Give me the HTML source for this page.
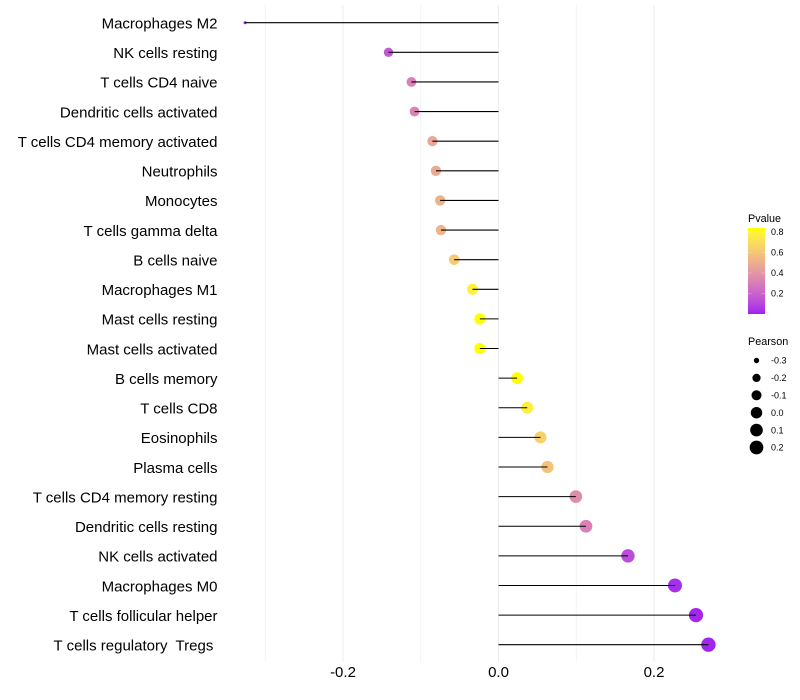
<!DOCTYPE html>
<html lang="en">
<head>
<meta charset="utf-8">
<title>Immune cell correlation lollipop chart</title>
<style>
html,body{margin:0;padding:0;background:#fff;}
#chart{display:block;width:800px;height:700px;font-family:"Liberation Sans",Arial,sans-serif;}
</style>
</head>
<body>
<svg id="chart" xmlns="http://www.w3.org/2000/svg" width="800" height="700" viewBox="0 0 800 700">
  <defs>
    <linearGradient id="pvalue-gradient" x1="0" y1="1" x2="0" y2="0"></linearGradient>
  </defs>
  <g id="grid"></g>
  <g id="points"></g>
  <g id="stems"></g>
  <g id="ylabels"></g>
  <g id="xlabels"></g>
  <g id="colorlegend">
    <text x="748" y="222" font-size="10.8" fill="#000">Pvalue</text>
    <rect x="748" y="228" width="17" height="86" fill="url(#pvalue-gradient)"></rect>
  </g>
  <g id="sizelegend">
    <text x="748" y="345" font-size="10.8" fill="#000">Pearson</text>
  </g>
</svg>
<script>
const categories = ["Macrophages M2","NK cells resting","T cells CD4 naive","Dendritic cells activated","T cells CD4 memory activated","Neutrophils","Monocytes","T cells gamma delta","B cells naive","Macrophages M1","Mast cells resting","Mast cells activated","B cells memory","T cells CD8","Eosinophils","Plasma cells","T cells CD4 memory resting","Dendritic cells resting","NK cells activated","Macrophages M0","T cells follicular helper","T cells regulatory  Tregs "];
const pearson = [-0.326,-0.1415,-0.112,-0.108,-0.085,-0.0805,-0.075,-0.074,-0.057,-0.0335,-0.024,-0.024,0.024,0.037,0.054,0.063,0.0995,0.1125,0.1665,0.227,0.254,0.27];
const pvalue = [0.001,0.16,0.31,0.32,0.46,0.48,0.51,0.52,0.62,0.77,0.83,0.83,0.83,0.76,0.64,0.58,0.36,0.31,0.12,0.03,0.015,0.01];
const xTicks = [-0.2,0,0.2];
const xMinorTicks = [-0.3,-0.1,0.1];
const colorTicks = [0.8,0.6,0.4,0.2];
const sizeTicks = [-0.3,-0.2,-0.1,0.0,0.1,0.2];

const SVGNS = "http://www.w3.org/2000/svg";
const pMin = Math.min.apply(null, pvalue), pMax = Math.max.apply(null, pvalue);
const rMin = Math.min.apply(null, pearson), rMax = Math.max.apply(null, pearson);

function xScale(v){ return 498.5 + v * 777.5; }
function yScale(i){ return 22.7 + i * 29.62; }
function radius(v){ return 1.5 + 5.7 * Math.sqrt(Math.max(0,(v - rMin) / (rMax - rMin))); }
function colorY(p){ return 314 - p * 102.5; }

function toLab(c){
  const l = c.map(function(u){u/=255;return u>0.04045?Math.pow((u+0.055)/1.055,2.4):u/12.92;});
  const X=(0.4124*l[0]+0.3576*l[1]+0.1805*l[2])/0.95047, Y=0.2126*l[0]+0.7152*l[1]+0.0722*l[2], Z=(0.0193*l[0]+0.1192*l[1]+0.9505*l[2])/1.08883;
  const f=function(t){return t>0.008856?Math.cbrt(t):7.787*t+16/116;};
  return [116*f(Y)-16,500*(f(X)-f(Y)),200*(f(Y)-f(Z))];
}
function fromLab(L){
  const fy=(L[0]+16)/116, fx=fy+L[1]/500, fz=fy-L[2]/200;
  const g=function(t){return t*t*t>0.008856?t*t*t:(t-16/116)/7.787;};
  const X=g(fx)*0.95047,Y=g(fy),Z=g(fz)*1.08883;
  const r=[3.2406*X-1.5372*Y-0.4986*Z,-0.9689*X+1.8758*Y+0.0415*Z,0.0557*X-0.2040*Y+1.0570*Z];
  return "rgb("+r.map(function(u){u=u>0.0031308?1.055*Math.pow(u,1/2.4)-0.055:12.92*u;return Math.round(Math.min(1,Math.max(0,u))*255);}).join(",")+")";
}
const labLow = toLab([160,32,240]), labHigh = toLab([255,255,0]);
function colorAt(t){ return fromLab(labLow.map(function(a,i){return a+(labHigh[i]-a)*t;})); }
function colorScale(p){ return colorAt((p-pMin)/(pMax-pMin)); }

function make(tag, attrs, parent, text){
  const el = document.createElementNS(SVGNS, tag);
  for (const k in attrs) el.setAttribute(k, attrs[k]);
  if (text !== undefined) el.textContent = text;
  parent.appendChild(el);
  return el;
}
function byId(id){ return document.getElementById(id); }

/* colour bar gradient */
for (let s = 0; s <= 20; s++) {
  make("stop", {offset:(s*5)+"%","stop-color":colorAt(s/20)}, byId("pvalue-gradient"));
}

/* grid */
xMinorTicks.forEach(function(v){
  const el = make("line",{x1:xScale(v),x2:xScale(v),y1:5,y2:662,stroke:"#f2f2f2","stroke-width":0.8},byId("grid"));
  
  
});
xTicks.forEach(function(v){
  const el = make("line",{x1:xScale(v),x2:xScale(v),y1:5,y2:662,stroke:"#ededed","stroke-width":1.07},byId("grid"));
  
  
  const t = make("text",{x:xScale(v),y:677,"font-size":15,"text-anchor":"middle",fill:"#000"},byId("xlabels"),v.toFixed(1));
  
  
});

/* marks */
categories.forEach(function(name,i){
  const y = yScale(i), x = xScale(pearson[i]);
  const c = make("circle",{cx:x,cy:y,r:radius(pearson[i]),fill:colorScale(pvalue[i])},byId("points"));
  
  
  const l = make("line",{x1:xScale(0),x2:x,y1:y,y2:y,stroke:"#000","stroke-width":1.07},byId("stems"));
  
  
  const t = make("text",{x:217.5,y:y+5.8,"font-size":15,"text-anchor":"end",fill:"#000","xml:space":"preserve",style:"white-space:pre"},byId("ylabels"),name);
  
  
});

/* colour legend ticks */
colorTicks.forEach(function(p){
  const y = colorY(p);
  const a = make("line",{x1:748,x2:751.4,y1:y,y2:y,stroke:"#fff","stroke-width":0.5,"stroke-opacity":0.5},byId("colorlegend"));
  
  
  const b = make("line",{x1:761.6,x2:765,y1:y,y2:y,stroke:"#fff","stroke-width":0.5,"stroke-opacity":0.5},byId("colorlegend"));
  
  
  const t = make("text",{x:771,y:y+3.2,"font-size":9,fill:"#000"},byId("colorlegend"),p.toFixed(1));
  
  
});

/* size legend */
sizeTicks.forEach(function(v,i){
  const y = 360.5 + i * 17.4;
  const c = make("circle",{cx:756.5,cy:y,r:radius(v),fill:"#000"},byId("sizelegend"));
  
  
  const t = make("text",{x:771,y:y+3.2,"font-size":9,fill:"#000"},byId("sizelegend"),v.toFixed(1));
  
  
});
</script>
</body>
</html>
